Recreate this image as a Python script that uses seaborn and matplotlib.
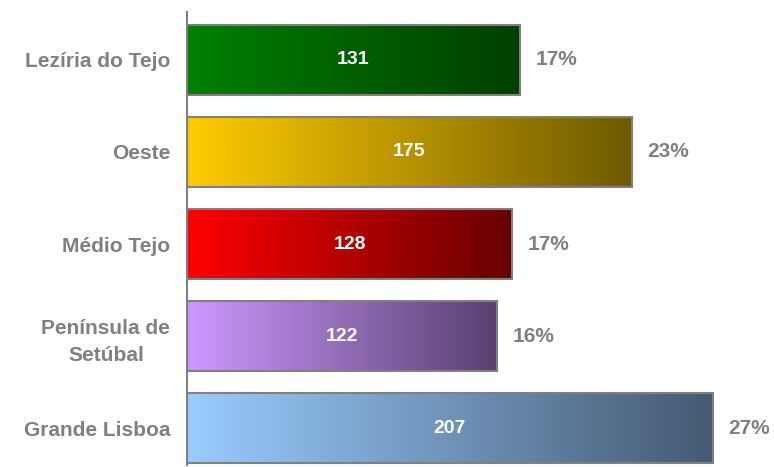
import numpy as np
import pandas as pd
import matplotlib
matplotlib.use("Agg")
import matplotlib.pyplot as plt
import seaborn as sns
from matplotlib.colors import LinearSegmentedColormap

categories = ["Lezíria do Tejo", "Oeste", "Médio Tejo", "Península de\nSetúbal", "Grande Lisboa"]
values = [131, 175, 128, 122, 207]
percents = ["17%", "23%", "17%", "16%", "27%"]
start_colors = ["#008000", "#FFCC00", "#FF0000", "#CC99FF", "#99CCFF"]
end_colors = ["#003F00", "#6F5A00", "#660000", "#5A3F70", "#465A72"]

sns.set_theme(style="white")
plt.rcParams['font.family'] = ['Liberation Sans', 'DejaVu Sans']

df = pd.DataFrame({"cat": categories, "val": values})

fig = plt.figure(figsize=(7.74, 4.67), dpi=100)
ax = fig.add_axes([187/774, 1 - 465/467, 1 - 187/774, 453/467])

sns.barplot(data=df, y="cat", x="val", orient="h", width=0.76, ax=ax,
            color="white", edgecolor="#808080", linewidth=1.5, saturation=1)

xmax = (774 - 187) / (713 - 187) * 207
ax.set_xlim(0, xmax)
ax.set_ylim(4.40, -0.52)

for i, p in enumerate(ax.patches):
    x0, y0 = p.get_x(), p.get_y()
    w, h = p.get_width(), p.get_height()
    cmap = LinearSegmentedColormap.from_list(f"g{i}", [start_colors[i], end_colors[i]])
    grad = np.linspace(0, 1, 256).reshape(1, -1)
    im = ax.imshow(grad, cmap=cmap, aspect="auto", extent=[x0, x0 + w, y0 + h, y0],
                   zorder=p.get_zorder() - 0.1, interpolation="bilinear")
    im.set_clip_path(p)
    p.set_facecolor("none")
    p.set_zorder(3)
    ax.text(w / 2, y0 + h / 2, str(values[i]), ha="center", va="center",
            color="white", fontsize=14, fontweight="bold", zorder=5)
    ax.text(w + 6, y0 + h / 2, percents[i], ha="left", va="center",
            color="#808080", fontsize=15, fontweight="bold", zorder=5)

ax.set_xlim(0, xmax)
ax.set_ylim(4.40, -0.52)
ax.set_xlabel("")
ax.set_ylabel("")
ax.set_xticks([])
for s in ["top", "right", "bottom"]:
    ax.spines[s].set_visible(False)
ax.spines["left"].set_color("#808080")
ax.spines["left"].set_linewidth(1.5)
ax.tick_params(axis="y", length=0, pad=12, labelsize=15, labelcolor="#808080")
for lbl in ax.get_yticklabels():
    lbl.set_fontweight("bold")
    lbl.set_multialignment("center")
    lbl.set_linespacing(1.5)

fig.savefig("out.png", dpi=100)
